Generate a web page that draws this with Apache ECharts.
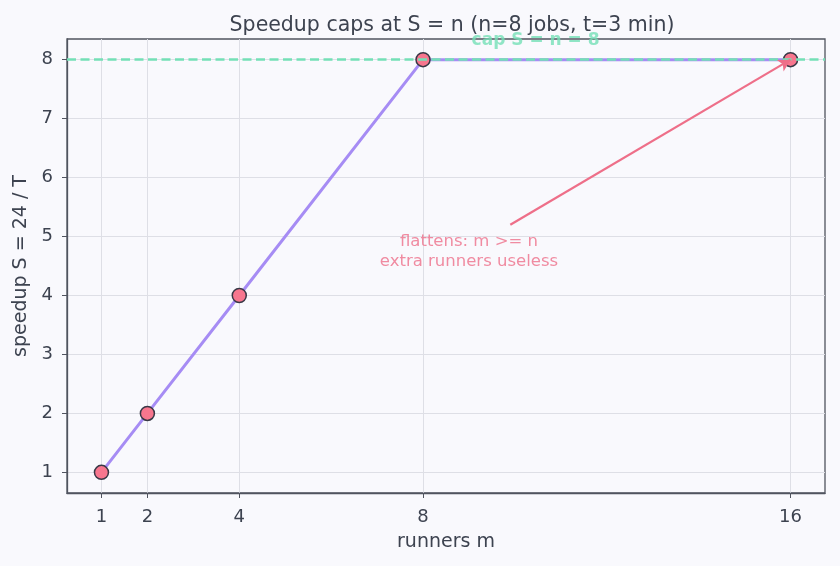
<!DOCTYPE html>
<html>
<head>
<meta charset="UTF-8">
<title>Speedup caps</title>
<style>
html,body{margin:0;padding:0;width:100%;height:100%;background:#f9f9fd;}
#main{width:840px;height:566px;}
</style>
</head>
<body>
<div id="main"></div>
<script src="https://cdn.jsdelivr.net/npm/echarts@6/dist/echarts.min.js"></script>
<script>
var runners = [1, 2, 4, 8, 16];
var speedup = [1, 2, 4, 8, 8];
var xTicks = [1, 2, 4, 8, 16];
var yTicks = [1, 2, 3, 4, 5, 6, 7, 8];
var capValue = 8;
var capLabelPos = [10.45, 8.33];
var noteText = 'flattens: m >= n\nextra runners useless';
var notePos = [9, 4.75];
var arrowFrom = [9.9, 5.2];
var arrowTo = [16, 8];

var ink = '#3d4350';
var font = 'DejaVu Sans';
var chart = echarts.init(document.getElementById('main'));

var pts = runners.map(function (m, i) { return [m, speedup[i]]; });

chart.setOption({
  backgroundColor: '#f9f9fd',
  animation: false,
  title: {
    text: 'Speedup caps at S = n (n=8 jobs, t=3 min)',
    left: 447, top: 10, textAlign: 'center',
    textStyle: {color: ink, fontSize: 20.5, fontWeight: 'normal', fontFamily: font}
  },
  grid: {
    left: 67, right: 15, top: 39, bottom: 73,
    show: true, borderColor: '#50545f', borderWidth: 1.3, backgroundColor: 'transparent'
  },
  xAxis: {
    type: 'value', min: 0.25, max: 16.75,
    name: 'runners m', nameLocation: 'middle', nameGap: 40,
    nameTextStyle: {color: ink, fontSize: 19, fontFamily: font},
    axisLine: {show: true, lineStyle: {color: '#50545f', width: 1.3}},
    axisTick: {show: true, length: 5, customValues: xTicks, lineStyle: {color: '#50545f'}},
    axisLabel: {customValues: xTicks, color: ink, fontSize: 18, margin: 15, fontFamily: font},
    splitLine: {show: true, lineStyle: {color: '#dedfe6', width: 1}}
  },
  yAxis: {
    type: 'value', min: 0.65, max: 8.35,
    name: 'speedup S = 24 / T', nameLocation: 'middle', nameGap: 35,
    nameTextStyle: {color: ink, fontSize: 19, fontFamily: font},
    axisLine: {show: true, lineStyle: {color: '#50545f', width: 1.3}},
    axisTick: {show: true, length: 5, customValues: yTicks, lineStyle: {color: '#50545f'}},
    axisLabel: {customValues: yTicks, color: ink, fontSize: 18, margin: 14, fontFamily: font},
    splitLine: {show: true, lineStyle: {color: '#dedfe6', width: 1}}
  },
  series: [
    {
      type: 'line',
      data: pts,
      symbol: 'circle', symbolSize: 14,
      lineStyle: {color: '#a68cf4', width: 3},
      itemStyle: {color: '#f7768e', borderColor: '#383846', borderWidth: 1.5},
      z: 3
    },
    {
      type: 'line',
      data: [],
      markLine: {
        silent: true, symbol: 'none',
        lineStyle: {color: '#74e0b6', type: [9, 4.5], width: 2.5},
        label: {show: false},
        data: [{yAxis: capValue}]
      },
      z: 4
    },
    {
      type: 'scatter',
      data: [capLabelPos],
      symbolSize: 0,
      silent: true,
      label: {
        show: true, position: 'inside', formatter: 'cap S = n = 8',
        color: '#74e0b6', fontWeight: 'bold', fontSize: 17, fontFamily: font
      },
      z: 6
    },
    {
      type: 'scatter',
      data: [notePos],
      symbolSize: 0,
      silent: true,
      label: {
        show: true, position: 'inside', formatter: noteText,
        color: '#ee6f89', fontSize: 16.5, lineHeight: 20, fontFamily: font, align: 'center'
      },
      markLine: {
        silent: true, symbol: ['none', 'arrow'], symbolSize: [10, 12],
        lineStyle: {color: '#ee6f89', type: 'solid', width: 2.2},
        label: {show: false},
        data: [[{coord: arrowFrom}, {coord: arrowTo}]]
      },
      z: 5
    }
  ]
});
</script>
</body>
</html>
